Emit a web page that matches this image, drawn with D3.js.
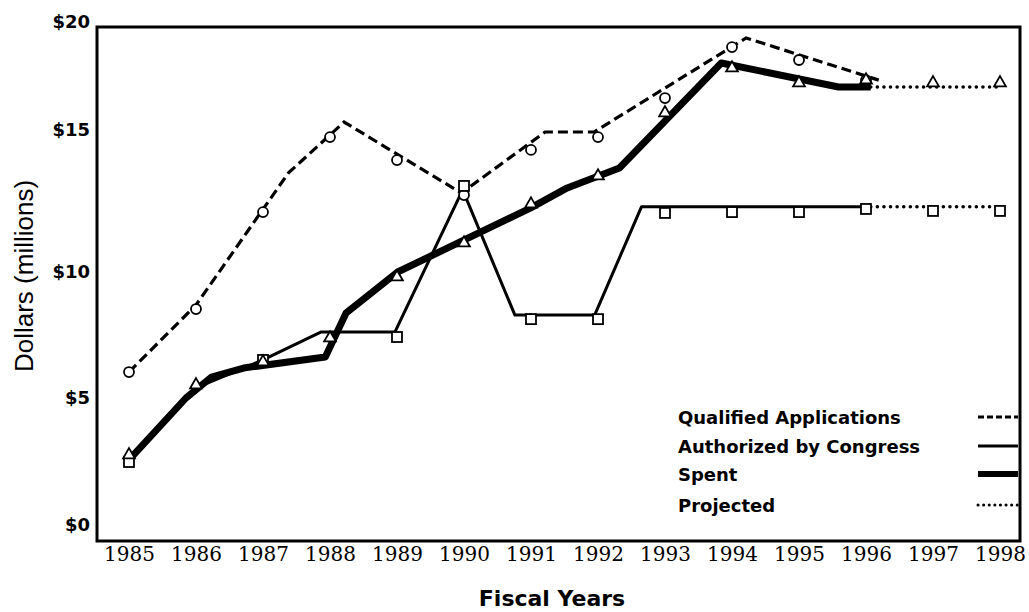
<!DOCTYPE html>
<html>
<head>
<meta charset="utf-8">
<script src="https://cdn.jsdelivr.net/npm/d3@7"></script>
<style>
  body { margin: 0; background: #fff; }
</style>
</head>
<body>
<div id="chart"></div>
<script>
// tick labels
const yearTicks = [1985, 1986, 1987, 1988, 1989, 1990, 1991, 1992, 1993, 1994, 1995, 1996, 1997, 1998];
const dollarTicks = [0, 5, 10, 15, 20];

// line vertices [year, $ millions]
const qualifiedLine = [[1985, 6.03], [1986, 8.69], [1987.38, 13.49], [1988.21, 15.37], [1989.96, 12.78],
  [1991.21, 14.93], [1991.94, 14.93], [1994.21, 19.26], [1996.19, 17.31]];
const authorizedLine = [[1985, 2.64], [1986, 5.40], [1987, 6.51], [1987.87, 7.62], [1988.97, 7.62],
  [1989.98, 12.89], [1990.76, 8.29], [1991.95, 8.29], [1992.65, 12.3], [1996.07, 12.3]];
const spentLine = [[1985, 2.56], [1985.85, 5.0], [1986.23, 5.83], [1986.71, 6.19], [1987.93, 6.63],
  [1988.24, 8.37], [1989.01, 10.0], [1990.99, 12.25], [1991.54, 12.96], [1992.32, 13.66],
  [1993.84, 18.10], [1995.59, 16.99], [1996.07, 16.99]];
const projectedSpent = [[1996.07, 16.99], [1998, 16.99]];
const projectedAuthorized = [[1996.07, 12.3], [1998, 12.3]];

// marker points
const qualifiedMarks = [[1985, 6.03], [1986, 8.53], [1987, 12.11], [1988, 14.75], [1989, 13.94], [1990, 12.71],
  [1991, 14.30], [1992, 14.75], [1993, 16.48], [1994, 18.84], [1995, 18.24], [1996, 17.31]];
const authorizedMarks = [[1985, 2.48], [1987, 6.51], [1989, 7.42], [1990, 13.03], [1991, 8.13], [1992, 8.13],
  [1993, 12.08], [1994, 12.11], [1995, 12.11], [1996, 12.22], [1997, 12.15], [1998, 12.15]];
const spentMarks = [[1985, 2.76], [1986, 5.52], [1987, 6.43], [1988, 7.38], [1989, 9.80], [1990, 11.02],
  [1991, 12.39], [1992, 13.38], [1993, 15.79], [1994, 17.87], [1995, 17.18], [1996, 17.31], [1997, 17.18], [1998, 17.18]];

const legendNames = ["Qualified Applications", "Authorized by Congress", "Spent", "Projected"];

const width = 1029, height = 612;
const frame = {left: 97, right: 1020, top: 27, bottom: 541};

const svg = d3.select("#chart").append("svg")
    .attr("width", width)
    .attr("height", height);

const x = d3.scaleLinear().domain([1985, 1998]).range([129, 1000]);
const y = d3.scaleLinear().domain(dollarTicks).range([525, 398, 272, 130, 22]);

const line = d3.line()
    .x(function(d) { return x(d[0]); })
    .y(function(d) { return y(d[1]); });

// frame
svg.append("rect")
    .attr("x", frame.left)
    .attr("y", frame.top)
    .attr("width", frame.right - frame.left)
    .attr("height", frame.bottom - frame.top)
    .attr("fill", "none")
    .attr("stroke", "#000")
    .attr("stroke-width", 3);

// axes
const yAxis = svg.append("g")
    .attr("transform", "translate(" + frame.left + ",0)")
    .call(d3.axisLeft(y).tickValues(dollarTicks).tickSize(0).tickPadding(7)
      .tickFormat(function(d) { return "$" + d; }));
yAxis.select(".domain").remove();
yAxis.selectAll("text")
    .attr("font-family", "DejaVu Sans")
    .attr("font-weight", "bold")
    .attr("font-size", 18)
    .attr("fill", "#000");

const xAxis = svg.append("g")
    .attr("transform", "translate(0," + frame.bottom + ")")
    .call(d3.axisBottom(x).tickValues(yearTicks).tickSize(0).tickPadding(6)
      .tickFormat(d3.format("d")));
xAxis.select(".domain").remove();
xAxis.selectAll("text")
    .attr("font-family", "DejaVu Serif")
    .attr("font-size", 20)
    .attr("fill", "#000");

// axis titles
svg.append("text")
    .attr("transform", "translate(33,276) rotate(-90)")
    .attr("text-anchor", "middle")
    .attr("font-family", "Liberation Sans")
    .attr("font-size", 26)
    .text("Dollars (millions)");

svg.append("text")
    .attr("x", 552)
    .attr("y", 606)
    .attr("text-anchor", "middle")
    .attr("font-family", "DejaVu Sans")
    .attr("font-weight", "bold")
    .attr("font-size", 22)
    .text("Fiscal Years");

// lines
svg.append("path").datum(qualifiedLine)
    .attr("d", line).attr("fill", "none").attr("stroke", "#000")
    .attr("stroke-width", 3.2).attr("stroke-dasharray", "10,5");
svg.append("path").datum(authorizedLine)
    .attr("d", line).attr("fill", "none").attr("stroke", "#000")
    .attr("stroke-width", 3).attr("stroke-linejoin", "round");
svg.append("path").datum(spentLine)
    .attr("d", line).attr("fill", "none").attr("stroke", "#000")
    .attr("stroke-width", 7).attr("stroke-linejoin", "round");
[projectedSpent, projectedAuthorized].forEach(function(p) {
  svg.append("path").datum(p)
    .attr("d", line).attr("fill", "none").attr("stroke", "#000")
    .attr("stroke-width", 3.5).attr("stroke-linecap", "round")
    .attr("stroke-dasharray", "0.1,6.5");
});

// markers
svg.selectAll(".circ")
    .data(qualifiedMarks)
    .enter().append("circle")
    .attr("class", "circ")
    .attr("cx", function(d) { return x(d[0]); })
    .attr("cy", function(d) { return y(d[1]); })
    .attr("r", 5)
    .attr("fill", "#fff")
    .attr("stroke", "#000")
    .attr("stroke-width", 1.8);

svg.selectAll(".sq")
    .data(authorizedMarks)
    .enter().append("rect")
    .attr("class", "sq")
    .attr("x", function(d) { return x(d[0]) - 5; })
    .attr("y", function(d) { return y(d[1]) - 5; })
    .attr("width", 10)
    .attr("height", 10)
    .attr("fill", "#fff")
    .attr("stroke", "#000")
    .attr("stroke-width", 1.8);

const tri = d3.symbol().type(d3.symbolTriangle).size(60);
svg.selectAll(".tri")
    .data(spentMarks)
    .enter().append("path")
    .attr("class", "tri")
    .attr("d", tri)
    .attr("transform", function(d) { return "translate(" + x(d[0]) + "," + y(d[1]) + ")"; })
    .attr("fill", "#fff")
    .attr("stroke", "#000")
    .attr("stroke-width", 1.8);

// legend
const legendY = [424, 453, 481, 512];
const legend = svg.append("g")
    .attr("font-family", "DejaVu Sans")
    .attr("font-weight", "bold")
    .attr("font-size", 18);

legend.selectAll("text")
    .data(legendNames)
    .enter().append("text")
    .attr("x", 678)
    .attr("y", function(d, i) { return legendY[i]; })
    .text(function(d) { return d; });

const sampleStyles = [
  {w: 3, dash: "6,3", cap: "butt"},
  {w: 3, dash: null, cap: "butt"},
  {w: 6, dash: null, cap: "butt"},
  {w: 3, dash: "0.1,5.5", cap: "round"}
];
legend.selectAll("line")
    .data(sampleStyles)
    .enter().append("line")
    .attr("x1", 978)
    .attr("x2", 1018)
    .attr("y1", function(d, i) { return legendY[i] - 7; })
    .attr("y2", function(d, i) { return legendY[i] - 7; })
    .attr("stroke", "#000")
    .attr("stroke-width", function(d) { return d.w; })
    .attr("stroke-dasharray", function(d) { return d.dash; })
    .attr("stroke-linecap", function(d) { return d.cap; });
</script>
</body>
</html>
